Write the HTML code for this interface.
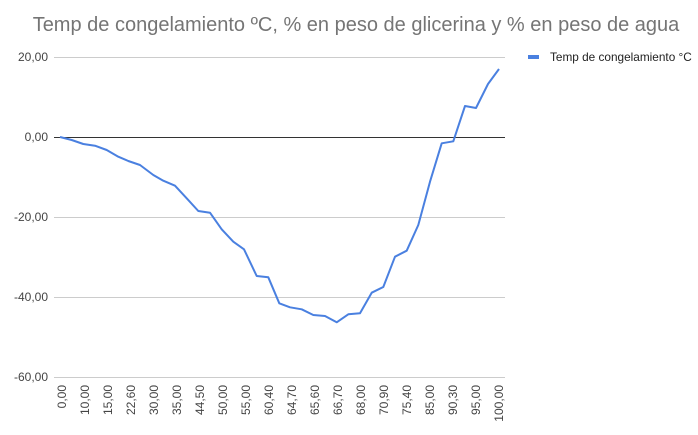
<!DOCTYPE html>
<html><head><meta charset="utf-8"><style>
body{margin:0;background:#fff;}
svg text{font-family:"Liberation Sans",Arial,sans-serif;}
</style></head><body>
<svg width="698" height="430" xmlns="http://www.w3.org/2000/svg">
<rect width="698" height="430" fill="#fff"/>
<text x="356" y="31" text-anchor="middle" font-size="20" fill="#757575">Temp de congelamiento ºC, % en peso de glicerina y % en peso de agua</text>
<g stroke="#ccc" stroke-width="1">
<line x1="54" y1="57.5" x2="505" y2="57.5"/>
<line x1="54" y1="217.5" x2="505" y2="217.5"/>
<line x1="54" y1="297.5" x2="505" y2="297.5"/>
<line x1="54" y1="377.5" x2="505" y2="377.5"/>
</g>
<line x1="54" y1="137.5" x2="505" y2="137.5" stroke="#333" stroke-width="1"/>
<g font-size="12" fill="#444" text-anchor="end">
<text x="48" y="61">20,00</text>
<text x="48" y="141">0,00</text>
<text x="48" y="221">-20,00</text>
<text x="48" y="301">-40,00</text>
<text x="48" y="381">-60,00</text>
</g>
<polyline fill="none" stroke="#4a80e0" stroke-width="2" stroke-linejoin="round" points="60,137 71.7,140 83.3,144 95,145.7 106.7,150 118.3,156.7 128.3,161 140,165 153.3,175 163.3,180.7 175,185.7 186.7,198.3 198.3,211 210,212.7 221.7,229.3 233.3,241.7 244,249.3 256.7,276 268.3,277.3 279.3,303.3 290,307.3 301.7,309.3 313.3,315 325,316 336.7,322.3 348.3,314.3 360,313.3 371.7,292.7 383.3,287 395,256.7 406.7,250.7 418.3,225 430,181.7 441.7,143.3 453.3,141.3 465,106 476,108 488,84 499,69"/>
<g font-size="12" fill="#444" text-anchor="end">
<text transform="translate(66,385) rotate(-90)">0,00</text>
<text transform="translate(89,385) rotate(-90)">10,00</text>
<text transform="translate(112,385) rotate(-90)">15,00</text>
<text transform="translate(135,385) rotate(-90)">22,60</text>
<text transform="translate(158,385) rotate(-90)">30,00</text>
<text transform="translate(181,385) rotate(-90)">35,00</text>
<text transform="translate(204,385) rotate(-90)">44,50</text>
<text transform="translate(227,385) rotate(-90)">50,00</text>
<text transform="translate(250,385) rotate(-90)">55,00</text>
<text transform="translate(273,385) rotate(-90)">60,40</text>
<text transform="translate(296,385) rotate(-90)">64,70</text>
<text transform="translate(319,385) rotate(-90)">65,60</text>
<text transform="translate(342,385) rotate(-90)">66,70</text>
<text transform="translate(365,385) rotate(-90)">68,00</text>
<text transform="translate(388,385) rotate(-90)">70,90</text>
<text transform="translate(411,385) rotate(-90)">75,40</text>
<text transform="translate(434,385) rotate(-90)">85,00</text>
<text transform="translate(457,385) rotate(-90)">90,30</text>
<text transform="translate(480,385) rotate(-90)">95,00</text>
<text transform="translate(503,385) rotate(-90)">100,00</text>
</g>
<rect x="528" y="55" width="11" height="4" fill="#4a80e0"/>
<text x="550" y="61" font-size="11.8" fill="#222">Temp de congelamiento °C</text>
</svg>
</body></html>
